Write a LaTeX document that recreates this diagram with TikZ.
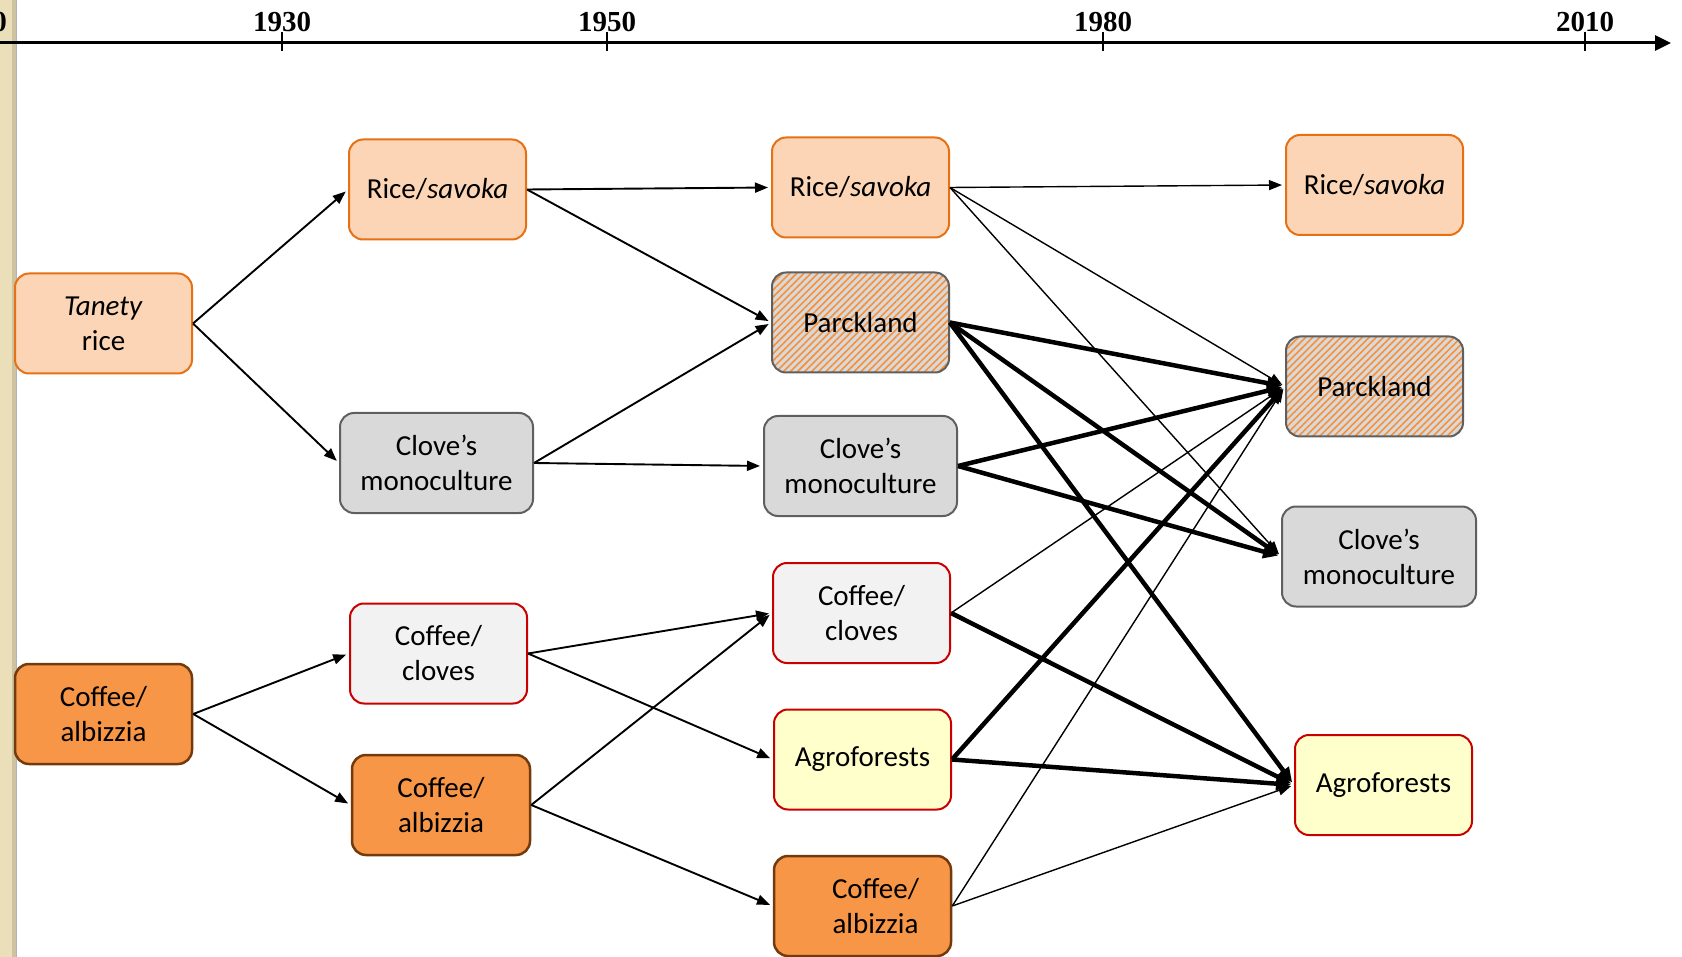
\documentclass[tikz,border=0pt]{standalone}
\usepackage{fontspec}
\setmainfont{Carlito}
\newfontfamily\yearfont{Liberation Serif}
\usetikzlibrary{arrows.meta,patterns.meta}
\definecolor{riceFill}{RGB}{251,213,181}
\definecolor{riceDraw}{RGB}{230,112,20}
\definecolor{grayFill}{RGB}{217,217,217}
\definecolor{grayDraw}{RGB}{95,95,95}
\definecolor{ccFill}{RGB}{242,242,242}
\definecolor{redDraw}{RGB}{200,0,0}
\definecolor{agroFill}{RGB}{255,255,204}
\definecolor{caFill}{RGB}{247,150,70}
\definecolor{caDraw}{RGB}{115,58,14}
\definecolor{patOrange}{RGB}{245,145,60}
\definecolor{stripBeige}{RGB}{234,223,184}
\definecolor{stripEdge}{RGB}{205,195,160}
\begin{document}
\begin{tikzpicture}[x=1pt,y=-1pt,
  box/.style={draw, rounded corners=14pt, line width=2pt, minimum width=177pt,
    minimum height=100pt, inner sep=0pt, align=center,
    font=\fontsize{29}{35}\selectfont},
  riceS/.style={box, fill=riceFill, draw=riceDraw},
  grayS/.style={box, fill=grayFill, draw=grayDraw, minimum width=193pt},
  ccS/.style={box, fill=ccFill, draw=redDraw},
  agroS/.style={box, fill=agroFill, draw=redDraw},
  caS/.style={box, fill=caFill, draw=caDraw, line width=2.5pt},
  parkS/.style={box, draw=grayDraw, preaction={fill=grayFill},
    pattern={Lines[angle=45,distance=5pt,line width=1.6pt]}, pattern color=patOrange},
  lnA/.style={line width=1.9pt, -{Triangle[length=13pt,width=10pt]}, shorten >=3pt},
  lnB/.style={line width=1.4pt, -{Triangle[length=13pt,width=10pt]}, shorten >=3pt},
  lnC/.style={line width=4.5pt, -{Triangle[length=15pt,width=13pt]}, shorten >=3pt},
  axis/.style={line width=3pt, -{Triangle[length=16pt,width=15pt]}},
  tick/.style={line width=2pt},
  year/.style={font=\yearfont\bfseries\fontsize{29}{32}\selectfont, inner sep=0pt}]
\useasboundingbox (0,0) rectangle (1682,957);
\clip (0,0) rectangle (1682,957);
% left decorative strip
\fill[stripBeige] (0,0) rectangle (16,957);
\fill[stripEdge] (12,0) rectangle (16,957);
\draw[line width=1pt, gray!60] (16.5,0) -- (16.5,957);
% time axis
\coordinate (axL) at (0,43);
\coordinate (axR) at (1671,43);
\draw[axis] (axL) -- (axR);
\foreach \xx/\yy in {282/1930, 607/1950, 1103/1980, 1585/2010}{
  \draw[tick] (\xx,32) -- (\xx,51);
  \node[year] (y\yy) at (\xx,22) {\yy};
}
\node[year, anchor=east] (y1910) at (7,22) {1910};
% column 1
\node[riceS] (tanety) at (103.5,323.5) {\textit{Tanety}\\rice};
\node[caS] (ca1) at (103.5,714) {Coffee/\\albizzia};
% column 2
\node[riceS] (rice2) at (437.5,189.5) {Rice/\textit{savoka}};
\node[grayS] (clove2) at (436.5,463) {Clove’s\\monoculture};
\node[ccS] (cc2) at (438.5,653.5) {Coffee/\\cloves};
\node[caS, minimum width=178pt] (ca2) at (441,805) {Coffee/\\albizzia};
% column 3
\node[riceS] (rice3) at (860.5,187.5) {Rice/\textit{savoka}};
\node[parkS] (park3) at (860.5,322.5) {Parckland};
\node[grayS] (clove3) at (860.5,466) {Clove’s\\monoculture};
\node[ccS] (cc3) at (861.5,613) {Coffee/\\cloves};
\node[agroS] (agro3) at (862.5,759.5) {Agroforests};
\node[caS] (ca3) at (862.5,906) {\hspace*{26pt}Coffee/\\\hspace*{26pt}albizzia};
% column 4
\node[riceS] (rice4) at (1374.5,185) {Rice/\textit{savoka}};
\node[parkS] (park4) at (1374.5,386.5) {Parckland};
\node[grayS, minimum width=194pt] (clove4) at (1379,556.5) {Clove’s\\monoculture};
\node[agroS] (agro4) at (1383.5,785) {Agroforests};
% connectors col1 -> col2
\draw[lnA] (tanety.east) -- (rice2.west);
\draw[lnA] (tanety.east) -- (clove2.west);
\draw[lnA] (ca1.east) -- (cc2.west);
\draw[lnA] (ca1.east) -- (ca2.west);
% col2 -> col3
\draw[lnA] (rice2.east) -- (rice3.west);
\draw[lnA] (rice2.east) -- (park3.west);
\draw[lnA] (clove2.east) -- (park3.west);
\draw[lnA] (clove2.east) -- (clove3.west);
\draw[lnA] (cc2.east) -- (cc3.west);
\draw[lnA] (cc2.east) -- (agro3.west);
\draw[lnA] (ca2.east) -- (cc3.west);
\draw[lnA] (ca2.east) -- (ca3.west);
% col3 -> col4 (thin)
\draw[lnB] (rice3.east) -- (rice4.west);
\draw[lnB] (rice3.east) -- (park4.west);
\draw[lnB] (rice3.east) -- (clove4.west);
\draw[lnB] (cc3.east) -- (park4.west);
\draw[lnB] (ca3.east) -- (park4.west);
\draw[lnB] (ca3.east) -- (agro4.west);
% col3 -> col4 (thick)
\draw[lnC] (park3.east) -- (park4.west);
\draw[lnC] (park3.east) -- (clove4.west);
\draw[lnC] (park3.east) -- (agro4.west);
\draw[lnC] (clove3.east) -- (park4.west);
\draw[lnC] (clove3.east) -- (clove4.west);
\draw[lnC] (cc3.east) -- (agro4.west);
\draw[lnC] (agro3.east) -- (park4.west);
\draw[lnC] (agro3.east) -- (agro4.west);
\end{tikzpicture}
\end{document}
